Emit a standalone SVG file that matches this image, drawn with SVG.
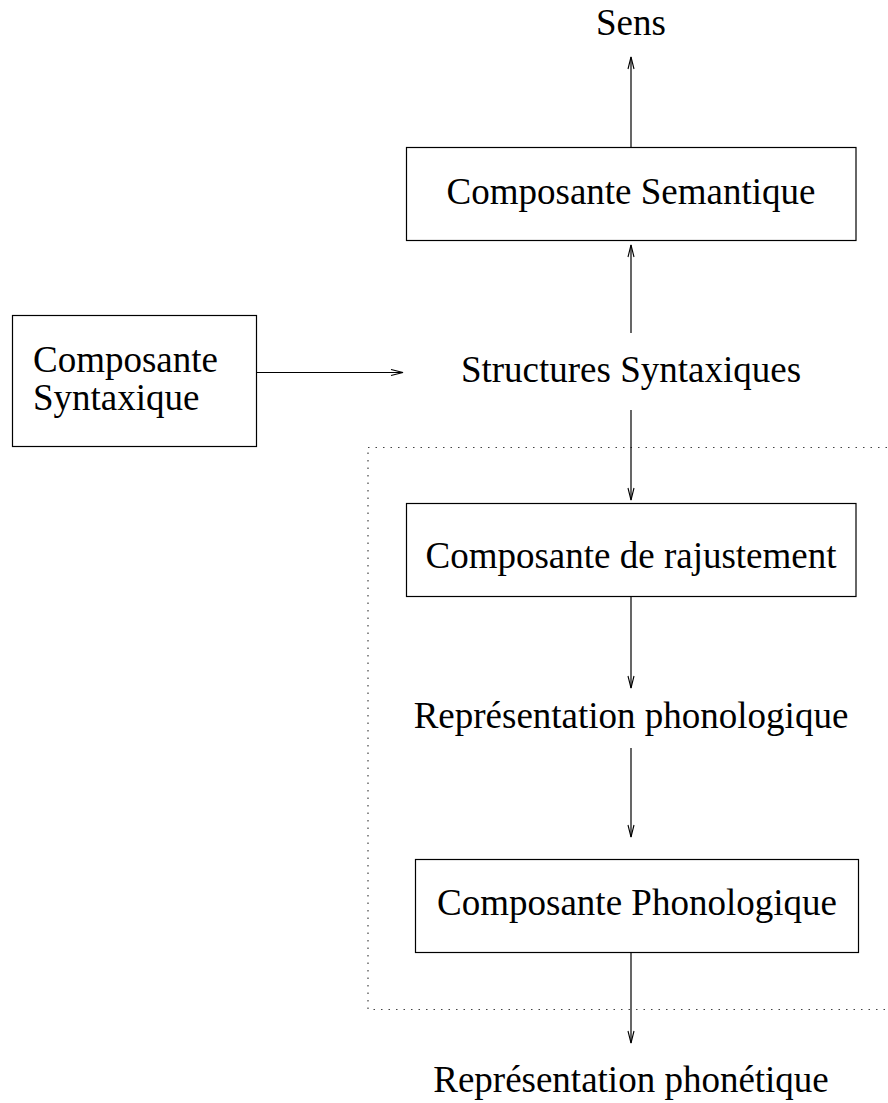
<svg xmlns="http://www.w3.org/2000/svg" width="888" height="1103" viewBox="0 0 888 1103">
<style>
text{font-family:"Liberation Serif","Times New Roman",serif;font-size:37px;fill:#000}
.box{fill:none;stroke:#000;stroke-width:1.2}
.c{stroke:#000;stroke-width:1.2;fill:none}
.dot{fill:none;stroke:#444;stroke-width:1.2;stroke-dasharray:1.5 6}
</style>
<defs>
<marker id="ah" markerWidth="14" markerHeight="8" refX="13" refY="4" orient="auto" markerUnits="userSpaceOnUse">
<path d="M1,1 L13,4 L1,7" fill="none" stroke="#000" stroke-width="1.1"/>
</marker>
</defs>
<rect class="dot" x="368" y="447.5" width="540" height="562"/>
<g id="sens"><text x="631" y="35" text-anchor="middle">Sens</text></g>
<g id="semantique"><rect class="box" x="406.5" y="147.5" width="449.5" height="93"/><text x="631" y="204" text-anchor="middle">Composante Semantique</text></g>
<g id="composante-syntaxique"><rect class="box" x="12.5" y="315.5" width="244" height="131"/><text x="33" y="372">Composante</text><text x="33" y="410">Syntaxique</text></g>
<g id="structures"><text x="631" y="382" text-anchor="middle">Structures Syntaxiques</text></g>
<g id="rajustement"><rect class="box" x="406.5" y="503.5" width="449.5" height="93"/><text x="631" y="568" text-anchor="middle">Composante de rajustement</text></g>
<g id="repr-phono"><text x="631" y="728" text-anchor="middle">Représentation phonologique</text></g>
<g id="phonologique"><rect class="box" x="415.5" y="859.5" width="443" height="93"/><text x="637" y="915" text-anchor="middle">Composante Phonologique</text></g>
<g id="repr-phonet"><text x="631" y="1092" text-anchor="middle">Représentation phonétique</text></g>
<g id="connectors">
<line class="c" x1="631" y1="147" x2="631" y2="57" marker-end="url(#ah)"/>
<line class="c" x1="631" y1="333" x2="631" y2="245" marker-end="url(#ah)"/>
<line class="c" x1="257" y1="372.5" x2="403" y2="372.5" marker-end="url(#ah)"/>
<line class="c" x1="631" y1="410" x2="631" y2="500" marker-end="url(#ah)"/>
<line class="c" x1="631" y1="597" x2="631" y2="688" marker-end="url(#ah)"/>
<line class="c" x1="631" y1="748" x2="631" y2="837" marker-end="url(#ah)"/>
<line class="c" x1="631" y1="953" x2="631" y2="1043" marker-end="url(#ah)"/>
</g>
</svg>
